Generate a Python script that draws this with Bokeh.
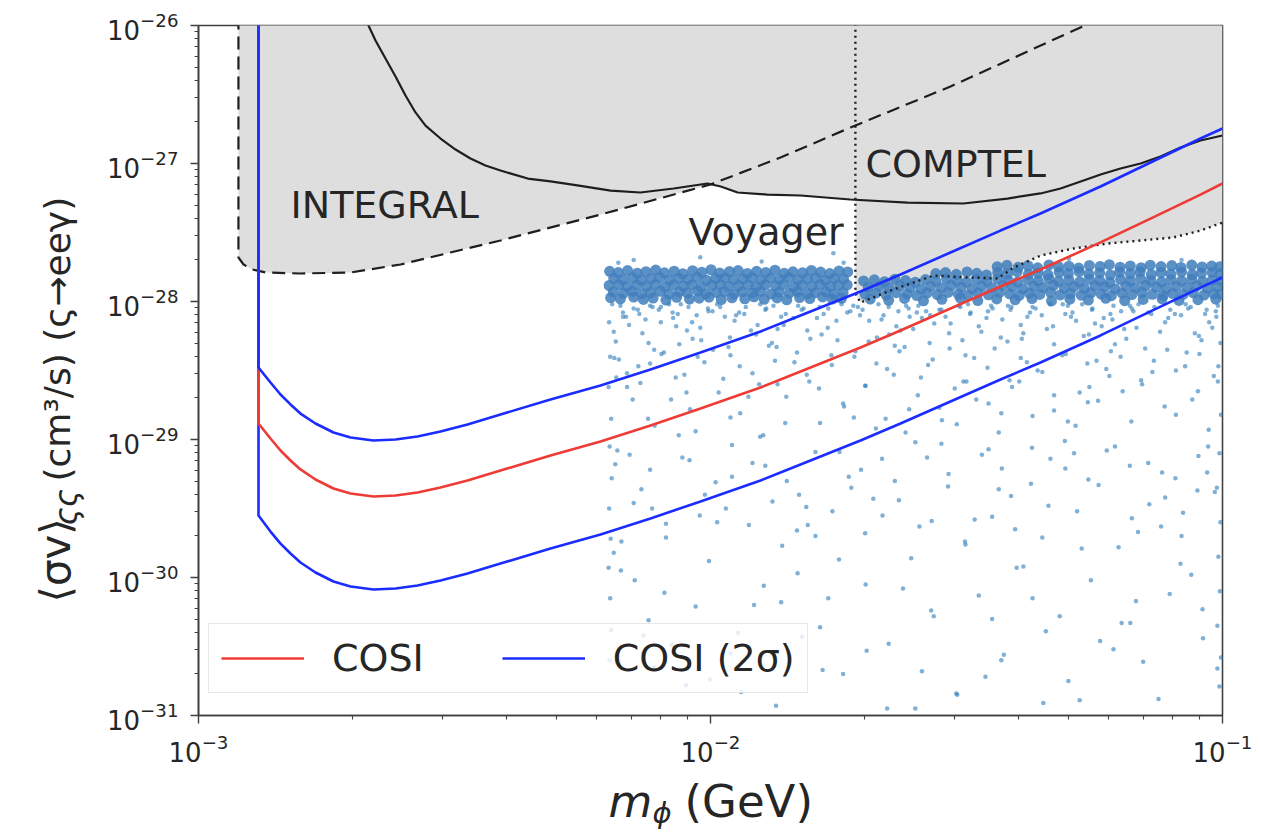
import numpy as np
from bokeh.plotting import figure
from bokeh.layouts import row, column
from bokeh.models import Label, Legend, LegendItem, FixedTicker
from bokeh.core.properties import value
from bokeh.embed import file_html
from bokeh.resources import INLINE

# ---------------- data (log10 values) ----------------
X_MAJOR = [1e-3, 1e-2, 1e-1]
Y_MAJOR = [1e-31, 1e-30, 1e-29, 1e-28, 1e-27, 1e-26]
MINOR_MULT = [2, 3, 4, 5, 6, 7, 8, 9]

CURVE_LOG_M = [-2.8828, -2.8828, -2.8594, -2.8398, -2.8203, -2.8008, -2.7715, -2.7363, -2.7031, -2.6582,
               -2.6152, -2.5723, -2.5273, -2.4746, -2.4102, -2.3125, -2.2148, -2.1172, -2.0195, -1.9023,
               -1.8242, -1.7070, -1.6289, -1.5313, -1.4336, -1.3555, -1.2383, -1.1406, -1.0430, -1.0]

# COSI (red)
COSI_LOG_SV = [-25.0, -28.884, -28.993, -29.080, -29.152, -29.217, -29.290, -29.355, -29.391, -29.413,
               -29.406, -29.384, -29.348, -29.297, -29.225, -29.116, -29.014, -28.899, -28.775, -28.623,
               -28.507, -28.333, -28.210, -28.051, -27.891, -27.768, -27.572, -27.399, -27.225, -27.145]
# COSI 2 sigma upper (blue)
HI_LOG_SV = [-25.0, -28.478, -28.587, -28.674, -28.746, -28.812, -28.884, -28.949, -28.986, -29.007,
             -29.000, -28.978, -28.942, -28.891, -28.819, -28.710, -28.609, -28.493, -28.370, -28.217,
             -28.101, -27.928, -27.804, -27.645, -27.486, -27.362, -27.167, -26.993, -26.819, -26.746]
# COSI 2 sigma lower (blue)
LO_LOG_SV = [-25.0, -29.551, -29.667, -29.754, -29.826, -29.891, -29.964, -30.029, -30.065, -30.087,
             -30.080, -30.058, -30.022, -29.971, -29.899, -29.790, -29.688, -29.572, -29.449, -29.297,
             -29.181, -29.007, -28.884, -28.725, -28.565, -28.442, -28.246, -28.072, -27.899, -27.826]

# INTEGRAL (dashed)
INTEGRAL_LOG_M = [-2.922, -2.922, -2.912, -2.895, -2.869, -2.801, -2.703, -2.6055, -2.508, -2.4102,
                  -2.2148, -2.0, -1.8633, -1.7266, -1.5313, -1.2773, -1.1797]
INTEGRAL_LOG_SV = [-25.5, -27.681, -27.732, -27.768, -27.790, -27.797, -27.790, -27.732, -27.645, -27.558,
                   -27.370, -27.152, -26.957, -26.739, -26.442, -26.014, -25.855]

# Voyager (solid black)
VOYAGER_LOG_M = [-2.676, -2.668, -2.6543, -2.6348, -2.6152, -2.5957, -2.5762, -2.5566, -2.5273, -2.4980,
                 -2.4688, -2.4395, -2.4102, -2.357, -2.3125, -2.260, -2.195, -2.137, -2.072, -2.006,
                 -1.980, -1.947, -1.889, -1.824, -1.727, -1.615, -1.506, -1.420, -1.3555, -1.3164,
                 -1.277, -1.238, -1.1992, -1.160, -1.1211, -1.082, -1.043, -1.0]
VOYAGER_LOG_SV = [-25.913, -26.0, -26.109, -26.239, -26.370, -26.507, -26.630, -26.725, -26.819, -26.899,
                  -26.964, -27.014, -27.051, -27.109, -27.130, -27.159, -27.196, -27.210, -27.181, -27.145,
                  -27.167, -27.210, -27.225, -27.232, -27.261, -27.283, -27.290, -27.254, -27.217, -27.181,
                  -27.130, -27.080, -27.036, -27.0, -26.949, -26.884, -26.833, -26.797]

# COMPTEL (dotted)
COMPTEL_LOG_M = [-1.717, -1.717, -1.707, -1.648, -1.564, -1.498, -1.439, -1.408, -1.355, -1.291,
                 -1.225, -1.160, -1.096, -1.043, -1.0]
COMPTEL_LOG_SV = [-25.9, -27.942, -28.007, -27.920, -27.812, -27.826, -27.833, -27.754, -27.667, -27.616,
                  -27.580, -27.558, -27.536, -27.486, -27.428]

# scatter: dense band, left block (rows)
BAND_A_M = [
    [-2.197,-2.180,-2.162,-2.143,-2.126,-2.107,-2.090,-2.071,-2.054,-2.035,-2.017,-1.999,-1.982,-1.963,-1.946,-1.928,-1.910,-1.892,-1.874,-1.856,-1.839,-1.820,-1.803,-1.785,-1.767,-1.749,-1.732],
    [-2.189,-2.171,-2.152,-2.135,-2.116,-2.099,-2.080,-2.062,-2.044,-2.026,-2.008,-1.990,-1.972,-1.955,-1.937,-1.919,-1.901,-1.883,-1.865,-1.847,-1.829,-1.811,-1.794,-1.776,-1.758,-1.740],
    [-2.198,-2.179,-2.163,-2.144,-2.125,-2.108,-2.089,-2.072,-2.053,-2.036,-2.018,-1.998,-1.981,-1.964,-1.945,-1.927,-1.911,-1.893,-1.873,-1.857,-1.838,-1.821,-1.802,-1.786,-1.766,-1.750,-1.733],
    [-2.190,-2.170,-2.153,-2.134,-2.117,-2.098,-2.081,-2.061,-2.045,-2.025,-2.009,-1.989,-1.973,-1.954,-1.938,-1.918,-1.902,-1.882,-1.866,-1.846,-1.830,-1.810,-1.795,-1.775,-1.759,-1.741],
    [-2.195,-2.176,-2.150,-2.131,-2.112,-2.087,-2.066,-2.041,-2.022,-2.003,-1.979,-1.958,-1.933,-1.915,-1.895,-1.870,-1.851,-1.826,-1.806,-1.781,-1.762,-1.744],
]
BAND_A_SV = [
    [-27.781,-27.790,-27.776,-27.795,-27.784,-27.772,-27.792,-27.780,-27.799,-27.777,-27.788,-27.770,-27.794,-27.783,-27.776,-27.797,-27.781,-27.789,-27.773,-27.796,-27.785,-27.791,-27.775,-27.787,-27.798,-27.779,-27.786],
    [-27.832,-27.840,-27.828,-27.845,-27.834,-27.826,-27.843,-27.831,-27.838,-27.825,-27.846,-27.833,-27.829,-27.841,-27.836,-27.827,-27.844,-27.830,-27.839,-27.826,-27.842,-27.835,-27.829,-27.847,-27.833,-27.838],
    [-27.884,-27.879,-27.891,-27.882,-27.887,-27.876,-27.893,-27.881,-27.888,-27.878,-27.895,-27.883,-27.877,-27.890,-27.885,-27.880,-27.892,-27.879,-27.886,-27.876,-27.894,-27.882,-27.889,-27.877,-27.891,-27.883,-27.880],
    [-27.932,-27.941,-27.928,-27.944,-27.935,-27.926,-27.947,-27.931,-27.939,-27.925,-27.943,-27.934,-27.929,-27.946,-27.930,-27.938,-27.927,-27.945,-27.933,-27.940,-27.928,-27.942,-27.936,-27.930,-27.948,-27.934],
    [-27.972,-27.981,-27.968,-27.985,-27.975,-27.990,-27.970,-27.983,-27.976,-27.969,-27.987,-27.973,-27.980,-27.966,-27.984,-27.974,-27.988,-27.971,-27.979,-27.967,-27.982,-27.977],
]

# scatter: dense band, right block (rows)
BAND_B_M = [
    [-1.440,-1.421,-1.399,-1.380,-1.361,-1.339,-1.320,-1.300,-1.281,-1.260,-1.239,-1.221,-1.200,-1.180,-1.159,-1.141,-1.120,-1.099,-1.081,-1.060,-1.040,-1.021,-1.005],
    [-1.560,-1.541,-1.520,-1.499,-1.480,-1.461,-1.439,-1.420,-1.401,-1.379,-1.360,-1.341,-1.319,-1.301,-1.280,-1.261,-1.240,-1.219,-1.201,-1.180,-1.161,-1.139,-1.120,-1.101,-1.080,-1.059,-1.041,-1.020,-1.004],
    [-1.701,-1.680,-1.660,-1.640,-1.619,-1.600,-1.580,-1.560,-1.539,-1.519,-1.500,-1.480,-1.460,-1.439,-1.419,-1.400,-1.380,-1.360,-1.339,-1.320,-1.300,-1.279,-1.260,-1.240,-1.220,-1.199,-1.180,-1.160,-1.140,-1.119,-1.100,-1.080,-1.060,-1.039,-1.020,-1.003],
    [-1.692,-1.670,-1.651,-1.630,-1.610,-1.589,-1.570,-1.549,-1.530,-1.510,-1.489,-1.470,-1.450,-1.429,-1.410,-1.390,-1.369,-1.350,-1.330,-1.309,-1.290,-1.270,-1.249,-1.230,-1.210,-1.189,-1.170,-1.150,-1.129,-1.110,-1.090,-1.069,-1.050,-1.030,-1.011],
    [-1.698,-1.677,-1.657,-1.637,-1.616,-1.597,-1.577,-1.557,-1.536,-1.516,-1.497,-1.477,-1.457,-1.436,-1.416,-1.397,-1.377,-1.357,-1.336,-1.317,-1.297,-1.276,-1.257,-1.237,-1.217,-1.196,-1.177,-1.157,-1.137,-1.116,-1.097,-1.077,-1.057,-1.036,-1.017,-1.004],
    [-1.688,-1.652,-1.621,-1.584,-1.548,-1.512,-1.478,-1.441,-1.405,-1.372,-1.334,-1.298,-1.262,-1.228,-1.191,-1.155,-1.118,-1.085,-1.048,-1.013],
]
BAND_B_SV = [
    [-27.748,-27.738,-27.752,-27.741,-27.756,-27.735,-27.749,-27.744,-27.757,-27.739,-27.746,-27.733,-27.751,-27.742,-27.755,-27.737,-27.747,-27.740,-27.753,-27.736,-27.750,-27.743,-27.748],
    [-27.798,-27.790,-27.803,-27.786,-27.796,-27.808,-27.789,-27.799,-27.784,-27.802,-27.793,-27.806,-27.788,-27.797,-27.783,-27.801,-27.792,-27.807,-27.787,-27.798,-27.785,-27.804,-27.791,-27.800,-27.786,-27.805,-27.794,-27.789,-27.799],
    [-27.851,-27.843,-27.856,-27.838,-27.848,-27.860,-27.841,-27.852,-27.836,-27.849,-27.858,-27.840,-27.853,-27.837,-27.846,-27.859,-27.842,-27.850,-27.835,-27.854,-27.844,-27.857,-27.839,-27.847,-27.861,-27.841,-27.852,-27.836,-27.849,-27.858,-27.843,-27.851,-27.838,-27.855,-27.845,-27.849],
    [-27.897,-27.889,-27.903,-27.886,-27.899,-27.908,-27.891,-27.900,-27.884,-27.896,-27.906,-27.888,-27.901,-27.885,-27.894,-27.907,-27.890,-27.898,-27.883,-27.902,-27.892,-27.905,-27.887,-27.895,-27.909,-27.889,-27.900,-27.884,-27.897,-27.906,-27.891,-27.899,-27.886,-27.903,-27.893],
    [-27.948,-27.940,-27.953,-27.936,-27.945,-27.957,-27.939,-27.950,-27.934,-27.947,-27.955,-27.938,-27.951,-27.935,-27.944,-27.956,-27.941,-27.949,-27.933,-27.952,-27.942,-27.954,-27.937,-27.946,-27.958,-27.940,-27.950,-27.935,-27.948,-27.956,-27.942,-27.949,-27.937,-27.953,-27.944,-27.947],
    [-27.982,-27.991,-27.978,-27.995,-27.984,-27.976,-27.993,-27.981,-27.988,-27.979,-27.996,-27.983,-27.990,-27.977,-27.994,-27.985,-27.980,-27.992,-27.987,-27.983],
]

# scatter: sparse points (log10 m, log10 <sigma v>)
SPARSE_POINTS = [
    (-2.150,-27.70),(-2.020,-27.68),(-1.760,-27.65),(-1.740,-27.72),(-1.300,-27.69),(-1.080,-27.70),(-2.180,-27.72),(-1.900,-27.71),
    (-2.192,-28.02),(-2.171,-28.11),(-2.150,-28.05),(-2.133,-28.23),(-2.118,-28.03),(-2.097,-28.15),(-2.074,-28.08),(-2.061,-28.31),
    (-2.043,-28.04),(-2.020,-28.19),(-2.004,-28.07),(-1.987,-28.02),(-1.962,-28.26),(-1.950,-28.10),(-1.931,-28.04),(-1.908,-28.17),
    (-1.893,-28.06),(-1.871,-28.33),(-1.853,-28.09),(-1.829,-28.03),(-1.811,-28.21),(-1.792,-28.12),(-1.770,-28.05),(-1.752,-28.28),
    (-1.733,-28.08),(-1.712,-28.04),(-1.690,-28.14),(-1.672,-28.02),(-1.651,-28.24),(-1.633,-28.07),(-1.611,-28.11),(-1.594,-28.03),
    (-1.572,-28.30),(-1.553,-28.06),(-1.531,-28.16),(-1.512,-28.04),(-1.493,-28.09),(-1.471,-28.22),(-1.452,-28.03),(-1.430,-28.13),
    (-1.414,-28.06),(-1.392,-28.27),(-1.371,-28.04),(-1.353,-28.10),(-1.331,-28.18),(-1.312,-28.02),(-1.293,-28.08),(-1.271,-28.25),
    (-1.254,-28.05),(-1.232,-28.12),(-1.213,-28.03),(-1.192,-28.20),(-1.174,-28.07),(-1.151,-28.34),(-1.133,-28.04),(-1.112,-28.15),
    (-1.093,-28.09),(-1.072,-28.02),(-1.054,-28.23),(-1.031,-28.06),(-1.012,-28.11),(-2.185,-28.29),(-2.110,-28.35),(-2.035,-28.27),
    (-1.965,-28.33),(-1.880,-28.30),(-1.640,-28.32),(-1.420,-28.29),(-1.210,-28.31),(-1.020,-28.19),
    (-2.176,-28.03),(-2.139,-28.09),(-2.101,-28.06),(-2.058,-28.02),(-2.027,-28.10),(-1.981,-28.04),(-1.944,-28.08),(-1.903,-28.02),
    (-1.862,-28.11),(-1.818,-28.05),(-1.779,-28.09),(-1.744,-28.02),(-1.703,-28.06),(-1.662,-28.10),(-1.618,-28.03),(-1.579,-28.07),
    (-1.541,-28.11),(-1.497,-28.02),(-1.458,-28.07),(-1.412,-28.04),(-1.376,-28.08),(-1.337,-28.02),(-1.296,-28.11),(-1.255,-28.06),
    (-1.219,-28.09),(-1.181,-28.03),(-1.145,-28.08),(-1.106,-28.12),(-1.067,-28.05),(-1.034,-28.09),(-1.009,-28.03),(-2.067,-28.18),
    (-1.921,-28.21),(-1.783,-28.24),(-1.604,-28.20),(-1.389,-28.23),(-1.168,-28.19),(-1.041,-28.28),
    (-2.113,-28.04),(-1.587,-28.12),(-1.302,-28.03),(-2.046,-28.21),(-1.822,-28.06),(-1.139,-28.09),(-1.675,-28.26),(-2.171,-28.08),
    (-1.449,-28.05),(-1.953,-28.14),(-1.236,-28.18),(-2.081,-28.02),(-1.708,-28.10),(-1.062,-28.04),(-1.534,-28.23),(-1.877,-28.03),
    (-1.381,-28.11),(-2.159,-28.17),(-1.613,-28.05),(-1.188,-28.27),(-1.996,-28.07),(-1.274,-28.02),(-1.771,-28.19),(-2.127,-28.13),
    (-1.492,-28.08),(-1.026,-28.15),(-1.911,-28.24),(-1.652,-28.04),(-1.343,-28.20),(-2.064,-28.09),(-1.102,-28.06),(-1.563,-28.16),
    (-1.838,-28.12),(-2.189,-28.22),(-1.419,-28.03),(-1.215,-28.13),(-1.727,-28.07),(-2.018,-28.28),(-1.307,-28.09),(-1.891,-28.05),
    (-1.476,-28.18),(-1.164,-28.02),(-1.629,-28.21),(-2.142,-28.06),(-1.046,-28.25),(-1.754,-28.14),(-1.365,-28.05),(-1.972,-28.11),
    (-1.515,-28.03),(-1.249,-28.16),(-2.097,-28.04),(-1.691,-28.29),(-1.081,-28.10),(-1.857,-28.17),(-1.433,-28.26),(-1.597,-28.08),
    (-2.036,-28.15),(-1.198,-28.07),(-1.787,-28.04),(-1.329,-28.31),(-2.165,-28.11),(-1.549,-28.06),(-1.122,-28.22),(-1.934,-28.09),
    (-1.666,-28.13),(-1.394,-28.17),(-2.005,-28.05),(-1.261,-28.24),(-1.805,-28.27),(-1.461,-28.12),(-1.013,-28.07),(-1.721,-28.03),
    (-2.121,-28.30),(-1.571,-28.10),(-1.286,-28.14),(-1.869,-28.20),(-1.177,-28.05),(-1.508,-28.28),(-2.073,-28.12),(-1.637,-28.18),
    (-2.188,-28.41),(-2.163,-28.62),(-2.141,-28.47),(-2.122,-28.85),(-2.096,-28.38),(-2.077,-28.71),(-2.051,-28.53),(-2.029,-28.94),
    (-2.012,-28.44),(-1.984,-28.66),(-1.961,-28.39),(-1.942,-28.81),(-1.918,-28.52),(-1.897,-28.97),(-1.874,-28.43),(-1.852,-28.69),
    (-1.831,-28.37),(-1.807,-28.58),(-1.786,-28.88),(-1.763,-28.46),(-1.741,-28.74),(-1.719,-28.40),(-1.698,-28.61),(-1.677,-28.92),
    (-1.655,-28.49),(-1.631,-28.36),(-1.612,-28.78),(-1.589,-28.55),(-1.566,-28.42),(-1.548,-28.86),(-1.523,-28.63),(-1.502,-28.39),
    (-1.481,-28.71),(-1.459,-28.48),(-1.437,-28.95),(-1.416,-28.57),(-1.394,-28.41),(-1.371,-28.83),(-1.352,-28.51),(-1.329,-28.68),
    (-1.306,-28.38),(-1.287,-28.90),(-1.264,-28.45),(-1.243,-28.72),(-1.221,-28.54),(-1.199,-28.40),(-1.178,-28.87),(-1.157,-28.60),
    (-1.134,-28.43),(-1.113,-28.76),(-1.091,-28.50),(-1.070,-28.37),(-1.048,-28.65),(-1.027,-28.93),(-1.008,-28.47),(-2.040,-28.78),
    (-1.905,-28.60),(-1.720,-28.84),(-1.500,-28.58),(-1.260,-28.62),
    (-1.943,-28.47),(-1.218,-28.36),(-2.152,-28.71),(-1.506,-28.58),(-1.764,-28.39),(-1.091,-28.82),(-1.382,-28.44),(-2.068,-28.55),
    (-1.621,-28.33),(-1.279,-28.66),(-1.854,-28.88),(-2.179,-28.42),(-1.457,-28.74),(-1.137,-28.51),(-1.697,-28.61),(-1.995,-28.35),
    (-1.329,-28.79),(-1.575,-28.46),(-2.109,-28.90),(-1.045,-28.38),(-1.812,-28.53),(-1.411,-28.62),(-1.246,-28.43),(-1.926,-28.69),
    (-1.658,-28.85),(-2.025,-28.40),(-1.159,-28.57),(-1.533,-28.34),(-1.739,-28.76),(-1.361,-28.50),(-2.137,-28.59),(-1.073,-28.47),
    (-1.886,-28.32),(-1.595,-28.68),(-1.302,-28.87),(-1.975,-28.56),(-1.195,-28.65),(-1.485,-28.41),(-1.788,-28.63),(-2.091,-28.37),
    (-1.432,-28.81),(-1.017,-28.54),(-1.676,-28.45),(-1.263,-28.73),(-1.836,-28.44),(-2.163,-28.52),(-1.553,-28.77),(-1.108,-28.35),
    (-1.397,-28.58),(-1.961,-28.84),(-1.717,-28.36),(-1.227,-28.49),(-2.047,-28.66),(-1.519,-28.89),(-1.313,-28.39),(-1.869,-28.60),
    (-1.059,-28.71),(-1.642,-28.53),(-2.118,-28.45),(-1.445,-28.34),
    (-2.182,-29.08),(-2.150,-29.46),(-2.118,-29.22),(-2.087,-29.71),(-2.055,-29.13),(-2.021,-29.55),(-1.990,-29.31),(-1.958,-29.04),
    (-1.925,-29.62),(-1.893,-29.19),(-1.860,-29.77),(-1.827,-29.40),(-1.795,-29.09),(-1.762,-29.52),(-1.730,-29.27),(-1.698,-29.68),
    (-1.665,-29.14),(-1.632,-29.44),(-1.600,-29.02),(-1.568,-29.59),(-1.535,-29.25),(-1.503,-29.74),(-1.470,-29.11),(-1.437,-29.36),
    (-1.405,-29.65),(-1.372,-29.06),(-1.340,-29.48),(-1.307,-29.21),(-1.275,-29.79),(-1.242,-29.33),(-1.210,-29.05),(-1.177,-29.57),
    (-1.145,-29.17),(-1.112,-29.42),(-1.080,-29.70),(-1.047,-29.12),(-1.015,-29.38),(-1.970,-29.50),(-1.810,-29.62),(-1.640,-29.30),
    (-1.450,-29.56),(-1.290,-29.10),(-1.120,-29.63),(-1.030,-29.24),
    (-1.577,-29.13),(-1.143,-29.47),(-1.903,-28.98),(-2.135,-29.36),(-1.352,-29.71),(-1.706,-29.22),(-1.028,-29.05),(-1.484,-29.58),
    (-2.041,-29.15),(-1.262,-29.29),(-1.831,-29.66),(-1.619,-28.95),(-1.181,-29.19),(-2.174,-29.74),(-1.413,-29.41),(-1.958,-29.27),
    (-1.077,-29.53),(-1.748,-29.09),(-1.536,-29.34),(-2.087,-29.61),(-1.308,-29.01),(-1.879,-29.45),(-1.203,-29.78),(-1.664,-29.55),
    (-1.457,-29.07),(-2.011,-29.40),(-1.118,-29.24),(-1.795,-29.70),(-1.374,-29.32),(-2.158,-29.11),(-1.592,-29.63),(-1.049,-29.37),
    (-1.918,-29.17),(-1.284,-29.52),(-1.682,-29.43),(-2.062,-28.97),(-1.502,-29.76),(-1.226,-29.08),(-1.851,-29.30),(-1.431,-29.21),
    (-2.114,-29.50),(-1.165,-29.67),(-1.725,-29.35),(-1.336,-29.14),(-1.987,-29.60),(-1.549,-29.03),(-1.092,-29.28),(-1.813,-29.49),
    (-2.175,-29.95),(-2.131,-30.42),(-2.090,-30.11),(-2.048,-30.78),(-2.003,-29.88),(-1.961,-30.55),(-1.915,-30.20),(-1.872,-30.93),
    (-1.830,-29.97),(-1.786,-30.36),(-1.741,-30.70),(-1.697,-30.05),(-1.652,-30.48),(-1.608,-29.86),(-1.564,-30.28),(-1.520,-30.84),
    (-1.476,-30.13),(-1.432,-30.60),(-1.389,-29.92),(-1.345,-30.39),(-1.301,-30.75),(-1.257,-30.02),(-1.213,-30.52),(-1.169,-30.17),
    (-1.125,-30.88),(-1.082,-29.90),(-1.038,-30.44),(-1.010,-30.66),(-1.940,-30.83),(-1.600,-30.95),(-1.350,-30.91),(-1.180,-30.33),
    (-2.110,-30.65),(-1.770,-30.15),(-1.450,-30.30),
    (-1.624,-30.08),(-1.239,-30.46),(-2.029,-30.21),(-1.402,-29.93),(-1.781,-30.67),(-1.103,-30.12),(-1.946,-30.40),(-1.518,-30.85),
    (-2.148,-30.02),(-1.318,-30.28),(-1.695,-30.53),(-1.061,-29.98),(-1.862,-30.18),(-1.463,-30.72),(-2.076,-30.49),(-1.197,-30.33),
    (-1.569,-30.24),(-1.749,-29.87),(-1.279,-30.89),(-2.121,-30.31),(-1.006,-30.79),(-1.427,-30.56),(-1.896,-30.06),(-1.655,-30.95),
    (-1.155,-30.61),(-2.001,-30.74),(-1.371,-30.15),(-1.821,-30.43),(-1.587,-30.68),(-1.039,-30.23),
    (-2.198,-28.15),(-2.196,-28.40),(-2.199,-28.62),(-2.194,-28.85),(-2.197,-29.05),(-2.193,-29.28),(-2.198,-29.50),(-2.195,-29.72),
    (-2.199,-29.93),(-2.196,-30.15),(-2.194,-30.38),(-2.197,-30.60),(-2.186,-29.18),(-2.189,-29.82),(-2.184,-28.55),
    (-1.004,-28.30),(-1.009,-28.58),(-1.003,-28.82),(-1.006,-29.10),(-1.011,-29.35),(-1.004,-29.60),(-1.008,-29.85),(-1.005,-30.10),
    (-1.010,-30.35),(-1.003,-30.58),
]

# ---------------- layout geometry (page pixels) ----------------
W, H = 1261, 833
LW = 90                 # left strip holding the y-axis title
MH = 775                # height of main figure; x-axis title strip below it
FL, FR, FT, FB = 198, 1222, 25, 715   # frame edges
FONT = "DejaVu Sans"
TXT = "#262626"
MID = 0.35              # the svg text anchor sits ~0.35 em above the baseline

p = figure(width=W - LW, height=MH, x_axis_type="log", y_axis_type="log",
           x_range=(1e-3, 1e-1), y_range=(1e-31, 1e-26),
           output_backend="svg", toolbar_location=None,
           min_border_left=FL - LW, min_border_right=W - FR, min_border_top=FT, min_border_bottom=MH - FB)
p.xgrid.visible = False
p.ygrid.visible = False
p.background_fill_color = "white"
p.border_fill_color = "white"
p.outline_line_color = "#404040"
p.outline_line_width = 1.6


def pw(a):
    return 10 ** np.asarray(a, dtype=float)


def at(px, py):
    """page pixel -> data coordinate (annotation placement only)"""
    return 10 ** (-3 + (px - FL) / ((FR - FL) / 2.0)), 10 ** (-26 - (py - FT) / ((FB - FT) / 5.0))


# grey excluded region (built from the three limit curves)
TOP = -25.5
x_split = COMPTEL_LOG_M[1]
grid = np.linspace(INTEGRAL_LOG_M[1], x_split, 400)
int_y = np.interp(grid, INTEGRAL_LOG_M[1:], INTEGRAL_LOG_SV[1:])
voy_y = np.where(grid >= VOYAGER_LOG_M[0], np.interp(grid, VOYAGER_LOG_M, VOYAGER_LOG_SV), np.inf)
low = np.minimum(int_y, voy_y)
poly_x = [grid[0]] + list(grid) + list(COMPTEL_LOG_M[1:]) + [COMPTEL_LOG_M[-1]]
poly_y = [TOP] + list(low) + list(COMPTEL_LOG_SV[1:]) + [TOP]
p.patch(pw(poly_x), pw(poly_y), fill_color="#dedede", line_color=None)

# scatter
bx, by = [], []
for mrow, srow in zip(BAND_A_M + BAND_B_M, BAND_A_SV + BAND_B_SV):
    n = min(len(mrow), len(srow))
    bx.extend(mrow[:n])
    by.extend(srow[:n])
p.scatter(pw(bx), pw(by), size=11, fill_color="#3f7ebc", fill_alpha=0.85, line_color=None)
sx = [a for a, b in SPARSE_POINTS]
sy = [b for a, b in SPARSE_POINTS]
p.scatter(pw(sx), pw(sy), size=4.5, fill_color="#2b7bbb", fill_alpha=0.6, line_color=None)

# limit lines
p.line(pw(INTEGRAL_LOG_M), pw(INTEGRAL_LOG_SV), line_color="#1e1e1e", line_width=2.2, line_dash="13 7")
p.line(pw(VOYAGER_LOG_M), pw(VOYAGER_LOG_SV), line_color="#1e1e1e", line_width=2.2)
p.line(pw(COMPTEL_LOG_M), pw(COMPTEL_LOG_SV), line_color="#1e1e1e", line_width=2.4, line_dash="2 4")

# COSI curves
lo = p.line(pw(CURVE_LOG_M), pw(LO_LOG_SV), line_color="#1a2cff", line_width=2.6)
red = p.line(pw(CURVE_LOG_M), pw(COSI_LOG_SV), line_color="#ef3b36", line_width=2.6)
hi = p.line(pw(CURVE_LOG_M), pw(HI_LOG_SV), line_color="#1a2cff", line_width=2.6)

# axes
minor_x = [m * t for t in X_MAJOR[:-1] for m in MINOR_MULT]
minor_y = [m * t for t in Y_MAJOR[:-1] for m in MINOR_MULT]
p.xaxis.ticker = FixedTicker(ticks=X_MAJOR, minor_ticks=minor_x)
p.yaxis.ticker = FixedTicker(ticks=Y_MAJOR, minor_ticks=minor_y)
for ax in (p.xaxis[0], p.yaxis[0]):
    ax.axis_line_color = "#404040"
    ax.axis_line_width = 1.6
    ax.major_tick_line_color = "#404040"
    ax.minor_tick_line_color = "#404040"
    ax.major_tick_line_width = 1.4
    ax.minor_tick_line_width = 1.1
    ax.major_tick_out = 8
    ax.major_tick_in = 0
    ax.minor_tick_out = 4
    ax.minor_tick_in = 0
    ax.major_label_text_font = FONT
    ax.major_label_text_font_size = "26px"
    ax.major_label_text_color = TXT
p.xaxis.major_label_standoff = 10
p.yaxis.major_label_standoff = 12

# legend
legend = Legend(items=[LegendItem(label="COSI", renderers=[red]),
                       LegendItem(label="COSI (2σ)", renderers=[hi])],
                orientation="horizontal", location=(10, 22))
legend.label_text_font = FONT
legend.label_text_font_size = "38px"
legend.label_text_color = TXT
legend.glyph_width = 83
legend.glyph_height = 44
legend.label_height = 44
legend.label_standoff = 28
legend.spacing = 78
legend.padding = 12
legend.margin = 0
legend.border_line_color = "#d0d0d0"
legend.border_line_width = 1.5
legend.background_fill_alpha = 0.8
p.add_layout(legend)

# in-plot labels (left edge, baseline in page pixels)
for txt, (px, py) in (("INTEGRAL", (290, 218)), ("Voyager", (688, 245)), ("COMPTEL", (865, 177))):
    x, y = at(px, py - MID * 38)
    p.add_layout(Label(x=x, y=y, text=txt, text_font=FONT, text_font_size="38px",
                       text_color=TXT, text_align="left", text_baseline="alphabetic"))


# ---------------- axis titles (separate text-only strips) ----------------
def text_strip(w, h, xr):
    f = figure(width=w, height=h, x_range=xr, y_range=(0, h), output_backend="svg",
               toolbar_location=None, min_border=0, x_axis_location=None, y_axis_location=None)
    f.xgrid.visible = False
    f.ygrid.visible = False
    f.outline_line_color = None
    f.background_fill_color = "white"
    f.border_fill_color = "white"
    return f


def put(f, x, y, text, size, angle=0.0, style="normal"):
    f.text(x=[x], y=[y], text=[text], angle=angle, text_font=value(FONT),
           text_font_size=value(f"{size}px"), text_font_style=value(style),
           text_color=TXT, text_align=value("left"), text_baseline=value("alphabetic"))


# y title: rotated, reads bottom -> top; baseline at page x = 70
left = text_strip(LW, H, (0, LW))
YA, YSUB, YC = 42, 31, 36
put(left, 70 - MID * YA, H - 602, "⟨σv⟩", YA, angle=np.pi / 2)
put(left, 76 - MID * YSUB, H - 525, "ςς", YSUB, angle=np.pi / 2, style="italic")
put(left, 70 - MID * YC, H - 481, "(cm³/s) (ς→eeγ)", YC, angle=np.pi / 2)

# x title: this strip's frame is aligned with the main frame, so x is in page pixels
bottom = text_strip(W - LW, H - MH, (FL, FR))
XS, XSUB = 45, 29
put(bottom, 608, H - (817 - MID * XS), "m", XS, style="italic")
put(bottom, 652, H - (823 - MID * XSUB), "ϕ", XSUB, style="italic")
put(bottom, 684, H - (817 - MID * XS), "(GeV)", XS)

layout = row(left, column(p, bottom))
open("out.html", "w", encoding="utf-8").write(file_html(layout, INLINE))
